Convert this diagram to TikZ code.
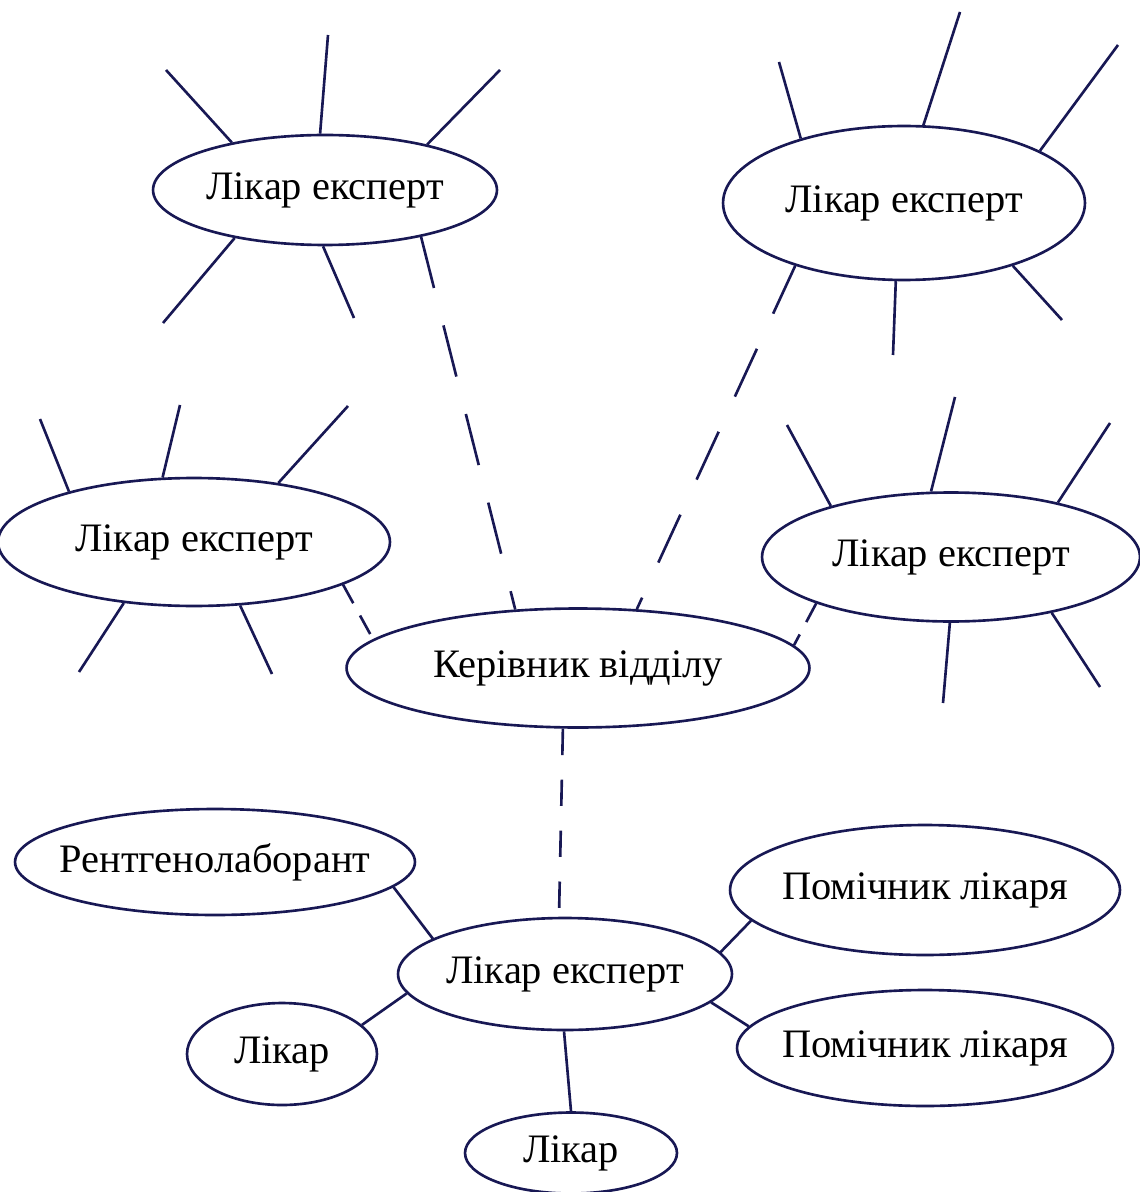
\documentclass[tikz,border=0pt]{standalone}
\usepackage{fontspec}
\setmainfont{Liberation Serif}
\usetikzlibrary{shapes.geometric}
\definecolor{ink}{RGB}{24,24,84}

\begin{document}
\begin{tikzpicture}[x=0.02cm,y=-0.02cm,every node/.style={draw=ink, ellipse, line width=1.5pt, inner xsep=-40pt, inner ysep=0pt, font=\fontsize{23}{27}\selectfont},
  ray/.style={draw=ink, line width=1.5pt},
  link/.style={ray, dash pattern=on 30pt off 22pt},
  shortlink/.style={ray, dash pattern=on 12pt off 8pt},
  droplink/.style={ray, dash pattern=on 15pt off 14pt}]
  \useasboundingbox (0,0) rectangle (1139,1192);
  \node[minimum width=6.88cm, minimum height=2.2cm] (exp1) at (325,190) {Лікар експерт};
  \node[minimum width=7.24cm, minimum height=3.08cm] (exp2) at (904,203) {Лікар експерт};
  \node[minimum width=7.84cm, minimum height=2.56cm] (exp3) at (194,542) {Лікар експерт};
  \node[minimum width=7.56cm, minimum height=2.58cm] (exp4) at (951,557) {Лікар експерт};
  \node[minimum width=9.26cm, minimum height=2.38cm] (head) at (578,668) {Керівник відділу};
  \node[minimum width=6.68cm, minimum height=2.24cm] (lead) at (565,974) {Лікар експерт};
  \node[minimum width=8cm, minimum height=2.12cm] (xray) at (215,862) {Рентгенолаборант};
  \node[minimum width=7.8cm, minimum height=2.6cm] (asst1) at (925,890) {Помічник лікаря};
  \node[minimum width=7.52cm, minimum height=2.32cm] (asst2) at (925,1048) {Помічник лікаря};
  \node[minimum width=3.8cm, minimum height=2.04cm] (doc1) at (282,1054) {Лікар};
  \node[minimum width=4.24cm, minimum height=1.62cm] (doc2) at (571,1153) {Лікар};

  \foreach \n/\a/\x/\y in {exp1/153/166/70, exp1/95/328/35, exp1/24/500/70, exp1/208/163/323, exp1/268/354/318,
      exp2/148/779/62, exp2/76/960/12, exp2/21/1118/45, exp2/264/893/355, exp2/330/1062/320,
      exp3/158/40/419, exp3/116/180/405, exp3/35/348/406, exp3/221/79/672, exp3/306/272/674,
      exp4/157/787/425, exp4/107/955/397, exp4/27/1110/423, exp4/269/943/703, exp4/331/1100/687} {
    \draw[ray] (\n.\a) -- (\x,\y);
  }

  \draw[link] (exp1.334) -- (head.137);
  \draw[link] (exp2.210) -- (head.45);
  \draw[shortlink] (exp3.344) -- (head.172);
  \draw[shortlink] (exp4.199) -- (head.6);
  \draw[droplink] (head.256) -- (lead.96);

  \foreach \p/\q in {xray.352/lead.165, asst1.190/lead.8, asst2.173/lead.349, doc1.20/lead.187, doc2.90/lead.269} {
    \draw[ray] (\p) -- (\q);
  }
\end{tikzpicture}
\end{document}
